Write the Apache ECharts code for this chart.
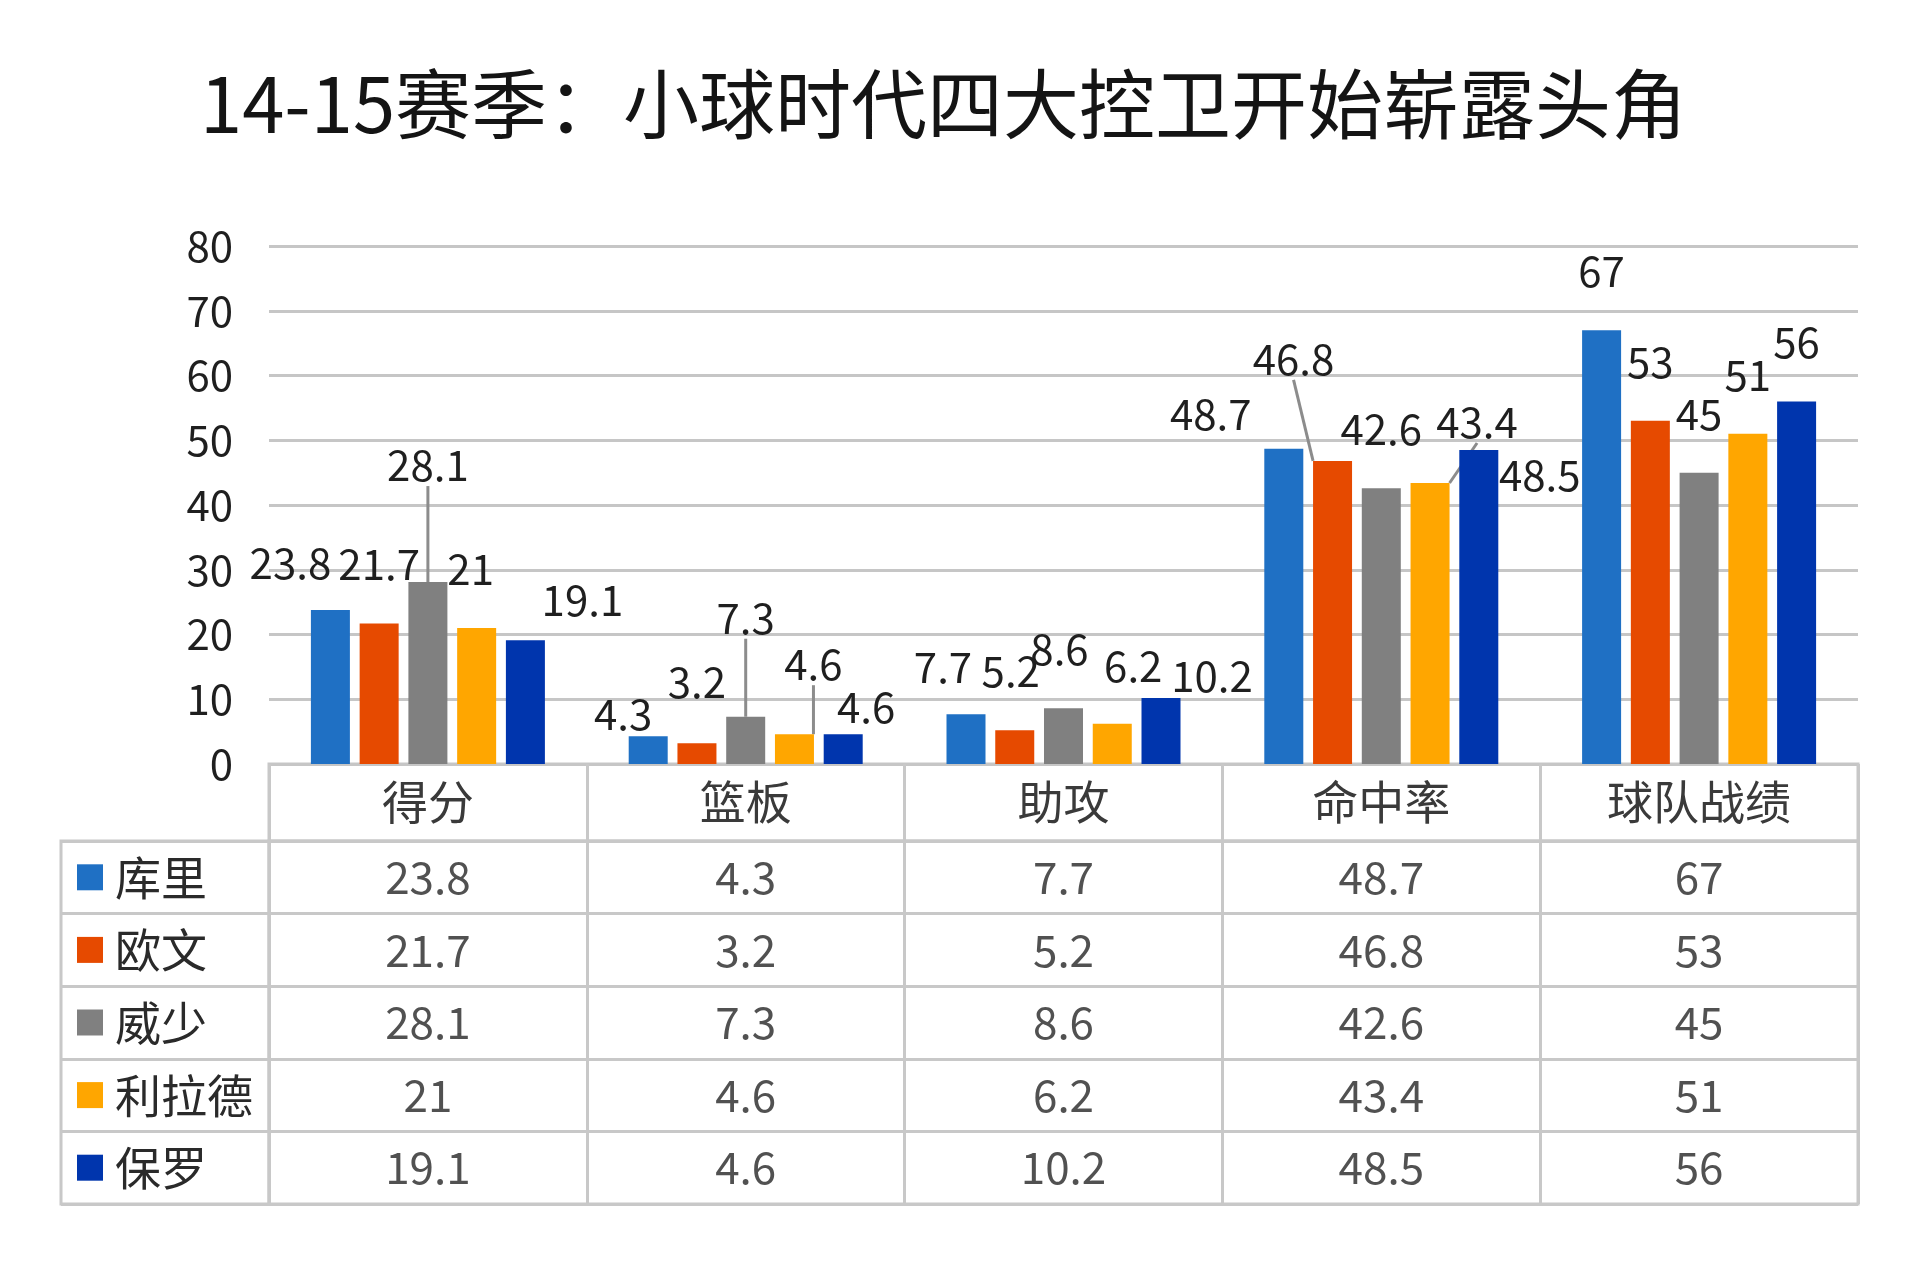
<!DOCTYPE html>
<html>
<head>
<meta charset="utf-8">
<script src="https://cdn.jsdelivr.net/npm/echarts@6/dist/echarts.min.js"></script>
<style>
html, body { margin: 0; padding: 0; background: #fff; }
#chart { width: 1920px; height: 1280px; }
</style>
</head>
<body>
<div id="chart"></div>
<script>
// data
const categories = ['得分', '篮板', '助攻', '命中率', '球队战绩'];
const players = ['库里', '欧文', '威少', '利拉德', '保罗'];
const curry = [23.8, 4.3, 7.7, 48.7, 67];
const irving = [21.7, 3.2, 5.2, 46.8, 53];
const westbrook = [28.1, 7.3, 8.6, 42.6, 45];
const lillard = [21, 4.6, 6.2, 43.4, 51];
const paul = [19.1, 4.6, 10.2, 48.5, 56];

const values = [curry, irving, westbrook, lillard, paul];
const colors = ['#1F70C4', '#E64A00', '#808080', '#FFA600', '#0035AD'];

// label nudges [dx, dy] per player / category, like the hand-moved labels in the original
const labelShift = [
  [[-40, 12], [-25, 37], [-23, 12], [-73, 24], [0, 0]],
  [[0, 0], [0, -2], [-4, 0], [-39, -43], [0, 0]],
  [[0, -58], [0, -40], [-4, 0], [0, 0], [0, 0]],
  [[-6, 0], [19, -11], [21, 1], [47, -2], [0, 0]],
  [[57, 19], [23, 32], [51, 37], [61, 84], [0, 0]]
];
// labels that get a leader line: [player, category]
const guided = [[2, 0], [2, 1], [3, 1], [1, 3], [3, 3]];

const font = "'Noto Sans CJK SC', 'Noto Sans', sans-serif";
const lineColor = '#C8C8C8';

const chart = echarts.init(document.getElementById('chart'));

const barSeries = players.map((name, i) => ({
  type: 'bar',
  name: name,
  xAxisIndex: 0,
  yAxisIndex: 0,
  barWidth: 39,
  barGap: '25%',
  itemStyle: { color: colors[i] },
  label: { show: true, position: 'top', distance: 38, fontSize: 42, color: '#1F1F1F', fontFamily: font },
  labelLine: { show: false, lineStyle: { color: '#8C8C8C', width: 3 } },
  labelLayout: p => ({ dx: labelShift[i][p.dataIndex][0], dy: labelShift[i][p.dataIndex][1] }),
  data: values[i].map((v, j) =>
    guided.some(g => g[0] === i && g[1] === j) ? { value: v, labelLine: { show: true } } : v)
}));

const tableCells = [];
players.forEach((p, i) => {
  categories.forEach((c, j) => tableCells.push([j, i, values[i][j]]));
});

const rich = { n: { fontSize: 46, color: '#2A2A2A', padding: [0, 0, 0, 12], fontFamily: font } };
colors.forEach((c, i) => { rich['s' + i] = { width: 26, height: 26, backgroundColor: c }; });

const cellGrid = { show: true, borderColor: lineColor, borderWidth: 3, outerBoundsMode: 'none' };

const option = {
  backgroundColor: '#fff',
  animation: false,
  textStyle: { fontFamily: font },
  title: {
    text: '14-15赛季：小球时代四大控卫开始崭露头角',
    left: 195,
    top: 61,
    textStyle: { fontSize: 76, fontWeight: 'normal', color: '#141414', fontFamily: font }
  },
  grid: [
    { left: 269, right: 62, top: 246, height: 518, outerBoundsMode: 'none' },
    Object.assign({ left: 269, right: 62, top: 764, height: 77 }, cellGrid),
    Object.assign({ left: 269, right: 62, top: 841, height: 363 }, cellGrid),
    Object.assign({ left: 61, width: 208, top: 841, height: 363 }, cellGrid)
  ],
  xAxis: [
    {
      gridIndex: 0, type: 'category', data: categories,
      axisLine: { show: false }, axisTick: { show: false },
      axisLabel: { interval: 0, margin: 15, fontSize: 46, color: '#3A3A3A' }
    },
    {
      gridIndex: 1, type: 'category', data: categories,
      axisLine: { show: false }, axisTick: { show: false }, axisLabel: { show: false },
      splitLine: { show: true, interval: 0, lineStyle: { color: lineColor, width: 3 } }
    },
    {
      gridIndex: 2, type: 'category', data: categories,
      axisLine: { show: false }, axisTick: { show: false }, axisLabel: { show: false },
      splitLine: { show: true, interval: 0, lineStyle: { color: lineColor, width: 3 } }
    },
    { gridIndex: 3, type: 'value', show: false, min: 0, max: 1 }
  ],
  yAxis: [
    {
      gridIndex: 0, type: 'value', min: 0, max: 80, interval: 10,
      axisLine: { show: false }, axisTick: { show: false },
      axisLabel: { fontSize: 42, margin: 36, color: '#1F1F1F' },
      splitLine: { lineStyle: { color: '#C6C6C6', width: 3 } }
    },
    { gridIndex: 1, type: 'value', show: false },
    {
      gridIndex: 2, type: 'category', data: players, inverse: true,
      axisLine: { show: false }, axisTick: { show: false }, axisLabel: { show: false },
      splitLine: { show: true, interval: 0, lineStyle: { color: lineColor, width: 3 } }
    },
    {
      gridIndex: 3, type: 'category', data: players, inverse: true,
      axisLine: { show: false }, axisTick: { show: false },
      splitLine: { show: true, interval: 0, lineStyle: { color: lineColor, width: 3 } },
      axisLabel: {
        inside: true, margin: 16, interval: 0,
        formatter: (v, idx) => '{s' + idx + '|}{n|' + v + '}',
        rich: rich
      }
    }
  ],
  series: barSeries.concat([{
    type: 'scatter',
    xAxisIndex: 2,
    yAxisIndex: 2,
    symbol: 'rect',
    symbolSize: 1,
    silent: true,
    itemStyle: { color: 'rgba(0,0,0,0)' },
    label: {
      show: true, position: 'inside', fontSize: 44, color: '#262626',
      formatter: p => String(p.value[2])
    },
    data: tableCells
  }])
};

chart.setOption(option);
</script>
</body>
</html>
